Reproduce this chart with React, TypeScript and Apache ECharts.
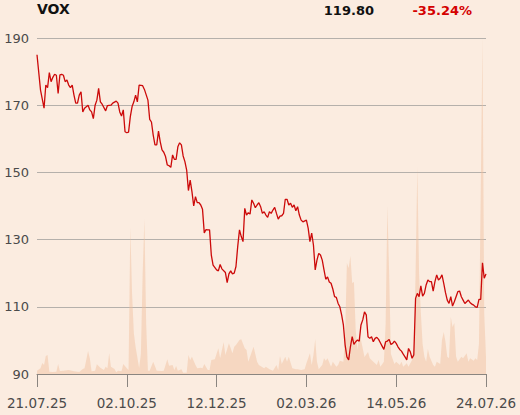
import React, { useEffect, useRef } from "react";
import * as echarts from "echarts";

const ticker = "VOX";
const lastPrice = "119.80";
const changePct = "-35.24%";
const tickLabels = ["21.07.25", "02.10.25", "12.12.25", "02.03.26", "14.05.26", "24.07.26"];
const tickEvery = 51;
const lastDay = 255;

// [trading day index, close]
const priceByDay: [number, number][] = [
  [0, 185.0], [2, 174.5], [4, 169.1], [5, 176], [6, 175.2], [7, 179.7], [8, 177], [9, 178.3],
  [10, 179.2], [11, 178.9], [12, 173.5], [13, 179], [14, 179.2], [15, 178.9], [16, 177], [17, 177.5],
  [18, 176], [19, 175.2], [20, 176], [21, 173], [22, 170.6], [23, 170.6], [24, 173], [25, 174],
  [26, 168], [27, 169.1], [29, 170], [30, 168.6], [31, 168], [32, 166], [33, 170], [34, 171.5],
  [35, 175], [36, 171], [37, 170.3], [39, 168.3], [40, 169.9], [42, 170], [43, 170.6], [45, 171.2],
  [46, 170.6], [47, 168], [48, 166.8], [49, 168.6], [50, 162.1], [51, 161.8], [52, 162], [53, 166.6],
  [54, 169.6], [55, 171], [56, 173], [57, 171], [58, 176], [60, 175.8], [61, 174.7], [63, 171.5],
  [64, 165.8], [65, 165], [66, 161.1], [67, 158.2], [68, 158.2], [69, 162.3], [70, 159.1], [71, 156.7],
  [72, 156], [73, 154.7], [74, 152.2], [75, 152], [76, 151.5], [77, 155.2], [78, 153.9], [79, 153.9],
  [80, 157.6], [81, 158.8], [82, 158.2], [83, 154.9], [84, 153.2], [85, 150.7], [86, 144.6], [87, 147.7],
  [88, 144.3], [89, 140], [90, 142.8], [91, 141], [92, 141], [93, 140.3], [94, 139], [95, 132],
  [96, 133], [97, 132.9], [98, 132.9], [99, 125.4], [100, 122.4], [102, 121], [103, 120.7], [104, 122.6],
  [105, 121.3], [107, 120.2], [108, 117.2], [109, 119.8], [110, 120.7], [111, 119.8], [112, 120], [113, 122],
  [114, 128], [115, 132.9], [116, 130.9], [117, 129.4], [118, 139.3], [119, 137.3], [120, 138], [121, 137.6],
  [122, 141.8], [123, 140.8], [124, 139.5], [125, 140.3], [126, 141], [127, 139.8], [128, 137.8], [129, 138.3],
  [130, 137.3], [131, 136.6], [132, 138.3], [133, 137.8], [134, 138.8], [135, 139.6], [136, 137.8], [137, 136.1],
  [138, 137], [139, 137.1], [140, 137.8], [141, 142], [142, 142], [143, 140.3], [144, 140.8], [145, 139.6],
  [146, 140.3], [147, 138.6], [148, 139.8], [149, 137.3], [150, 135.8], [151, 135.3], [153, 135.8], [154, 133.4],
  [155, 129.4], [156, 131.9], [157, 128.4], [158, 121], [159, 123.9], [160, 125.9], [161, 125.4], [162, 123.9],
  [163, 121], [164, 118.2], [165, 118.9], [166, 117.4], [167, 117], [168, 115.3], [169, 113], [170, 112.8],
  [171, 111], [172, 110], [173, 107.6], [174, 104.6], [175, 98.6], [176, 95.1], [177, 94.2], [178, 98.1],
  [179, 101.1], [180, 98.8], [181, 99.6], [182, 100.1], [183, 99.8], [184, 104.6], [185, 106.1], [186, 108.5],
  [187, 107.6], [188, 101.1], [189, 100.6], [190, 101.1], [191, 99.6], [192, 100.6], [193, 100.9], [194, 100.3],
  [195, 99.3], [196, 98.3], [197, 97.3], [198, 99.6], [199, 99.8], [200, 100.3], [201, 98.8], [202, 99.1],
  [203, 99.8], [204, 99.1], [205, 98.1], [206, 97.3], [207, 96.8], [208, 95.9], [209, 95.1], [210, 94.2],
  [211, 97.6], [212, 96.6], [213, 94.7], [214, 95.7], [215, 112.5], [216, 114], [217, 113], [218, 116.2],
  [219, 113.2], [220, 114], [221, 116.5], [222, 118], [223, 117.5], [224, 117.5], [225, 114.7], [226, 117.5],
  [227, 119.5], [228, 118], [229, 118.5], [230, 119.5], [231, 117], [232, 114.2], [233, 112], [234, 111],
  [235, 113], [236, 110.2], [237, 111.5], [238, 113], [239, 114.5], [240, 114.7], [241, 113], [242, 112],
  [243, 111], [244, 111.5], [245, 112], [246, 111.2], [247, 110.8], [248, 110.5], [249, 110], [250, 109.8],
  [251, 112.2], [252, 112.2], [253, 123.1], [254, 118.5], [255, 119.8],
];

// [trading day index, volume in thousands]
const volumeByDay: [number, number][] = [
  [0, 50], [2, 85], [3, 165], [4, 135], [5, 270], [6, 285], [7, 35], [9, 30], [11, 35], [12, 150],
  [13, 45], [15, 50], [18, 60], [21, 40], [24, 30], [26, 75], [27, 85], [29, 345], [30, 235], [31, 40],
  [33, 50], [34, 145], [36, 95], [38, 60], [39, 110], [40, 85], [41, 310], [42, 110], [44, 75], [45, 25],
  [46, 50], [48, 40], [49, 150], [51, 85], [52, 60], [53, 2200], [54, 1200], [55, 615], [56, 405], [58, 90],
  [59, 300], [60, 1500], [61, 2325], [62, 750], [63, 50], [64, 50], [66, 185], [68, 50], [71, 45], [72, 50],
  [74, 220], [75, 125], [77, 135], [78, 60], [79, 120], [80, 50], [82, 70], [83, 20], [85, 20], [86, 285],
  [87, 210], [88, 260], [90, 135], [91, 85], [93, 95], [94, 85], [95, 150], [97, 60], [98, 60], [99, 210],
  [101, 220], [103, 385], [104, 235], [106, 475], [107, 285], [109, 460], [111, 310], [112, 410], [113, 435], [115, 510],
  [116, 520], [118, 385], [119, 360], [120, 185], [122, 335], [123, 410], [125, 185], [126, 135], [129, 85], [130, 110],
  [132, 70], [134, 50], [136, 135], [137, 60], [138, 270], [139, 150], [141, 260], [142, 185], [143, 260], [145, 85],
  [147, 70], [148, 70], [150, 60], [152, 70], [153, 160], [155, 310], [156, 135], [157, 285], [158, 520], [159, 185],
  [160, 70], [162, 135], [163, 235], [164, 200], [165, 235], [167, 110], [168, 185], [170, 110], [171, 135], [172, 200],
  [174, 185], [175, 600], [176, 1665], [177, 1590], [178, 1770], [179, 1365], [180, 1380], [181, 660], [182, 360], [183, 600],
  [184, 510], [186, 255], [188, 330], [189, 235], [191, 185], [193, 135], [194, 210], [195, 110], [197, 185], [198, 750],
  [199, 2520], [200, 1500], [201, 300], [203, 150], [204, 185], [206, 135], [207, 185], [208, 110], [210, 160], [211, 110],
  [213, 210], [214, 360], [215, 1500], [216, 3105], [217, 1500], [218, 915], [219, 450], [220, 260], [221, 185], [222, 375],
  [223, 260], [225, 135], [226, 110], [227, 185], [229, 150], [230, 510], [231, 630], [232, 480], [233, 260], [234, 235],
  [235, 855], [236, 705], [237, 765], [238, 260], [239, 185], [241, 260], [242, 235], [244, 310], [245, 185], [246, 235],
  [248, 200], [249, 235], [250, 210], [251, 450], [252, 2700], [253, 5040], [254, 900], [255, 260],
];

const FONT = "DejaVu Sans";

export default function App() {
  const ref = useRef<HTMLDivElement>(null);
  useEffect(() => {
    document.body.style.margin = "0";
    const chart = echarts.init(ref.current!, null, { renderer: "svg" });
    chart.setOption({
      animation: false,
      backgroundColor: "#fbece0",
      textStyle: { fontFamily: FONT },
      grid: { left: 37, right: 34, top: 38, bottom: 41 },
      graphic: [
        {
          type: "text", left: 37, top: 2,
          style: { text: ticker, font: `bold 14px ${FONT}`, fill: "#111111" },
        },
        {
          type: "text", x: 374, y: 10,
          style: { text: lastPrice, font: `bold 13px ${FONT}`, fill: "#111111", textAlign: "right", textVerticalAlign: "middle" },
        },
        {
          type: "text", x: 472, y: 10,
          style: { text: changePct, font: `bold 13px ${FONT}`, fill: "#d40000", textAlign: "right", textVerticalAlign: "middle" },
        },
      ],
      xAxis: {
        type: "value",
        min: 0,
        max: lastDay,
        interval: tickEvery,
        axisLine: { show: true, lineStyle: { color: "#8a8580", width: 1 } },
        axisTick: { show: true, length: 13, lineStyle: { color: "#8a8580" } },
        axisLabel: {
          formatter: (v: number) => tickLabels[Math.round(v / tickEvery)] ?? "",
          color: "#4a4a4a",
          fontSize: 13.5,
          margin: 22,
          fontFamily: FONT,
        },
        splitLine: { show: false },
      },
      yAxis: [
        {
          type: "value",
          min: 90,
          max: 190,
          interval: 20,
          axisLine: { show: false },
          axisTick: { show: false },
          axisLabel: { color: "#4a4a4a", fontSize: 13, margin: 8, fontFamily: FONT },
          splitLine: { show: true, lineStyle: { color: "#b5b0ab", width: 1 } },
        },
        {
          type: "value",
          min: 0,
          max: "dataMax",
          show: false,
          splitLine: { show: false },
        },
      ],
      series: [
        {
          type: "line",
          yAxisIndex: 1,
          data: volumeByDay,
          showSymbol: false,
          silent: true,
          lineStyle: { width: 0 },
          areaStyle: { color: "rgba(240,190,155,0.45)", opacity: 1 },
          z: 1,
        },
        {
          type: "line",
          yAxisIndex: 0,
          data: priceByDay,
          showSymbol: false,
          lineStyle: { color: "#cc0a0a", width: 1.3 },
          z: 3,
        },
      ],
    });
    return () => chart.dispose();
  }, []);
  return <div ref={ref} style={{ width: 520, height: 415 }} />;
}
